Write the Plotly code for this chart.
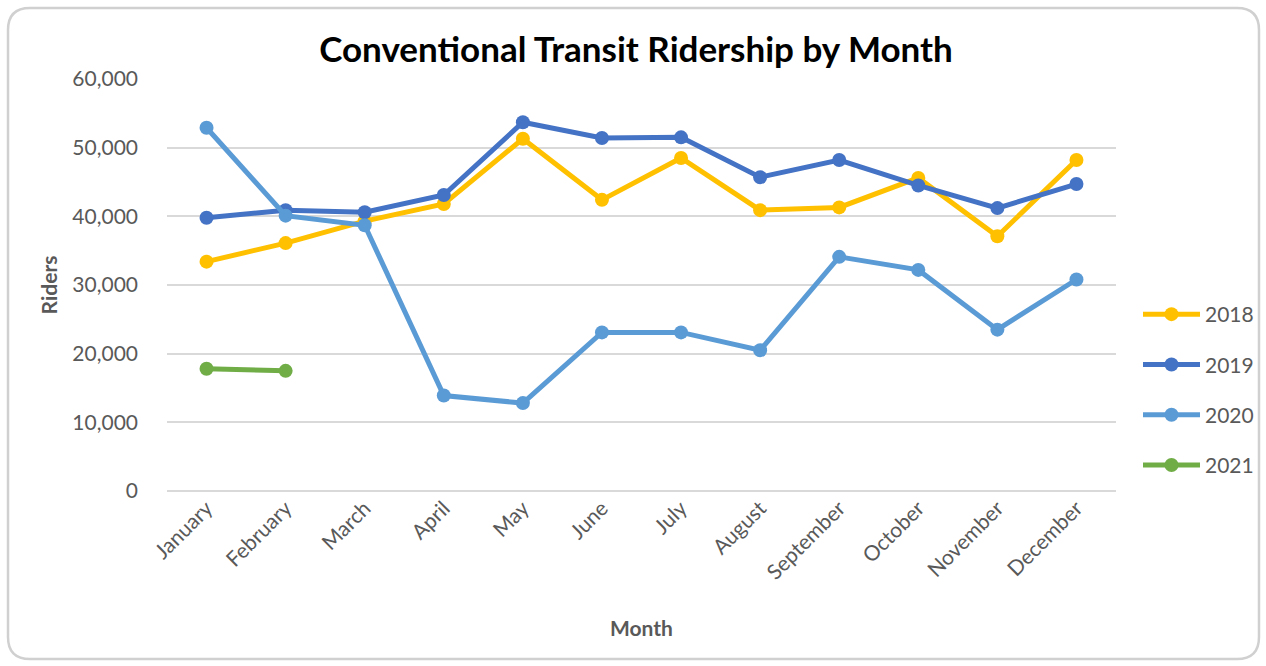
import plotly.graph_objects as go

months = ["January", "February", "March", "April", "May", "June", "July",
          "August", "September", "October", "November", "December"]
r2018 = [33400, 36100, 39300, 41800, 51300, 42400, 48500, 40900, 41300, 45600, 37100, 48200]
r2019 = [39800, 40900, 40600, 43100, 53700, 51400, 51500, 45700, 48200, 44500, 41200, 44700]
r2020 = [52900, 40100, 38700, 13900, 12800, 23100, 23100, 20500, 34100, 32200, 23500, 30800]
r2021 = [17800, 17500]
series_names = ["2018", "2019", "2020", "2021"]
series_colors = ["#FFC000", "#4472C4", "#5B9BD5", "#70AD47"]

W, H = 1266, 666
L, R, T, B = 167, 150, 79, 175
PW, PH = W - L - R, H - T - B

def px2paper(x, y):
    return (x - L) / PW, (H - B - y) / PH

fig = go.Figure()
for name, vals, col in zip(series_names, [r2018, r2019, r2020, r2021], series_colors):
    fig.add_trace(go.Scatter(
        x=months[:len(vals)], y=vals, name=name, mode="lines+markers",
        line=dict(color=col, width=5), marker=dict(color=col, size=14),
        legendgroup=name,
    ))

# rounded border
x0, y0, x1, y1, rr = 8, 8, 1259, 659, 22
def P(x, y):
    a, b = px2paper(x, y)
    return f"{a:.5f},{b:.5f}"
path = (f"M {P(x0+rr, y0)} L {P(x1-rr, y0)} Q {P(x1, y0)} {P(x1, y0+rr)} "
        f"L {P(x1, y1-rr)} Q {P(x1, y1)} {P(x1-rr, y1)} "
        f"L {P(x0+rr, y1)} Q {P(x0, y1)} {P(x0, y1-rr)} "
        f"L {P(x0, y0+rr)} Q {P(x0, y0)} {P(x0+rr, y0)} Z")

gray = "#595959"
font_family = "Lato, 'Open Sans', sans-serif"
fig.update_layout(
    width=W, height=H,
    margin=dict(l=L, r=R, t=T, b=B, autoexpand=False),
    paper_bgcolor="white", plot_bgcolor="white",
    font=dict(family=font_family, color=gray, size=19),
    title=dict(text="<b>Conventional Transit Ridership by Month</b>",
               x=(636) / W, xanchor="center", y=1 - 50 / H, yanchor="middle",
               font=dict(size=35, color="black", family=font_family)),
    xaxis=dict(type="category", tickangle=-45, showgrid=False, showline=False,
               ticks="", tickfont=dict(size=21, color=gray),
               title=dict(text="<b>Month</b>", font=dict(size=21, color=gray), standoff=38),
               range=[-0.5, 11.5]),
    yaxis=dict(range=[0, 60000], dtick=10000, tickformat=",", showgrid=True,
               gridcolor="#d9d9d9", gridwidth=1.5, zeroline=True, zerolinecolor="#d9d9d9",
               zerolinewidth=1.5, showline=False, ticks="", ticklabelstandoff=28,
               tickfont=dict(size=21, color=gray),
               title=dict(text="<b>Riders</b>", font=dict(size=21, color=gray), standoff=8)),
    legend=dict(x=(1138 - L) / PW, xanchor="left", y=px2paper(0, 390)[1], yanchor="middle",
                font=dict(size=21, color=gray), tracegroupgap=20, itemwidth=57,
                bgcolor="rgba(0,0,0,0)"),
    shapes=[dict(type="path", xref="paper", yref="paper", path=path,
                 line=dict(color="#d0d0d0", width=2.5), layer="below")],
)
fig.write_html("out.html")
